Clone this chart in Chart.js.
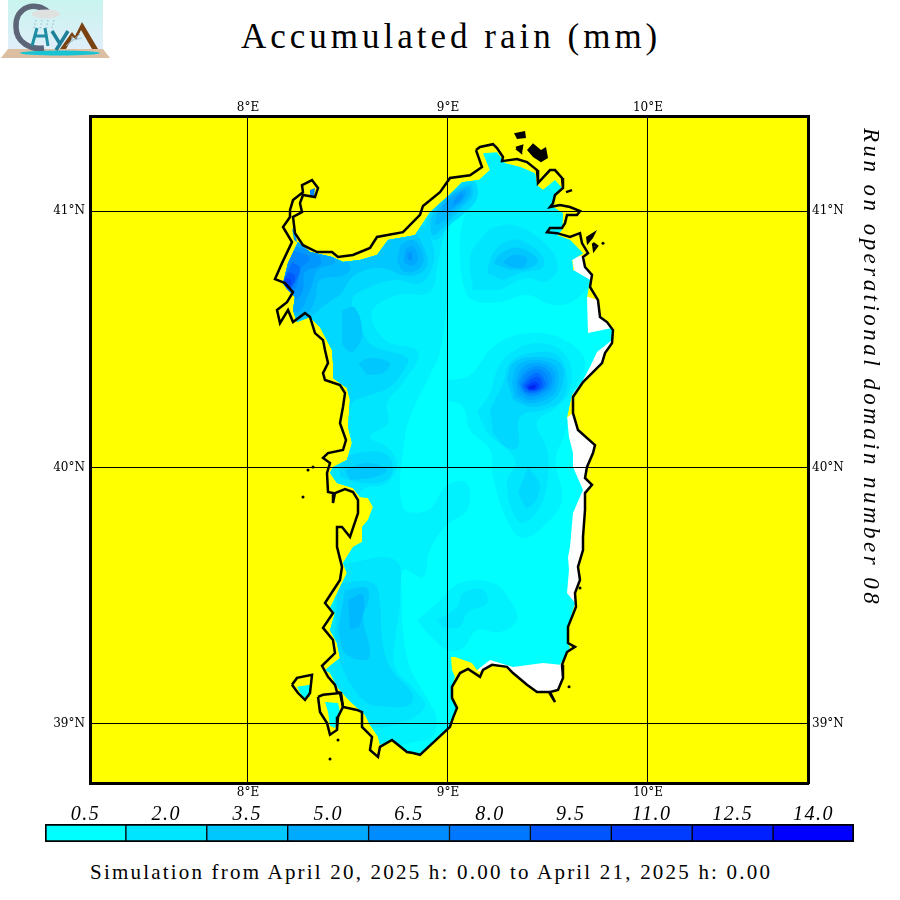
<!DOCTYPE html>
<html lang="en">
<head>
<meta charset="UTF-8">
<title>Accumulated rain (mm)</title>
<script src="https://cdn.jsdelivr.net/npm/chart.js"></script>
<style>
    body { margin: 0; background: #fff; width: 900px; height: 900px; overflow: hidden; position: relative; }
    canvas { position: absolute; left: 0; }
    .txt { position: absolute; white-space: nowrap; font-family: "Liberation Serif", serif; color: #000; }
    #title { left: 241px; top: 17px; font-size: 35px; letter-spacing: 4px; }
    #period { left: 90px; top: 860px; font-size: 21px; letter-spacing: 2.2px; }
    #run { left: 858px; top: 128px; font-size: 23px; font-style: italic; letter-spacing: 3.45px; writing-mode: vertical-rl; }
    #logo { position: absolute; left: 0; top: 0; }
</style>
</head>
<body>
<svg id="logo" width="111" height="59" viewBox="0 0 111 59">
    <defs><linearGradient id="sky" x1="0" y1="0" x2="0" y2="1"><stop offset="0" stop-color="#c8f4ee"/><stop offset="1" stop-color="#e0eefa"/></linearGradient></defs>
    <rect x="8" y="0" width="95" height="50" fill="url(#sky)"/>
    <polygon points="8,49 103,49 110,58 1,58" fill="#dcbfa2"/>
    <ellipse cx="60" cy="53" rx="40" ry="2.500" fill="#18c4d4"/>
    <path d="M48 12 C36 1 15 6 16 27 C16 42 30 50 44 48" fill="none" stroke="#5d6678" stroke-width="5.500"/>
    <path d="M32 46 L37 28 M48 46 L45 28 M35 36 L47 36" stroke="#1f8ea4" stroke-width="3" fill="none"/>
    <path d="M52 31 L60 44 L68 31 M60 44 L56 50" stroke="#1f7f98" stroke-width="3.500" fill="none"/>
    <polygon points="60,49 72,32 75,36 82,22 98,49 92,49 81,30 76,40 73,37 66,49" fill="#7a4210"/>
    <path d="M66 46 L80 34 M72 42 L72 36 M74 40 L82 38" stroke="#9cc4dc" stroke-width="1" fill="none"/>
    <ellipse cx="46" cy="14" rx="14" ry="4.500" fill="#dfe1e1"/>
    <path d="M36 20 L34 28 M42 20 L40 30 M48 20 L46 30 M54 20 L52 28" stroke="#a8c8d8" stroke-width="1.500" stroke-dasharray="1.500 2" fill="none"/>
</svg>
<div class="txt" id="title">Accumulated rain (mm)</div>
<canvas id="map" width="900" height="810" style="top:0"></canvas>
<canvas id="scale" width="900" height="50" style="top:800px"></canvas>
<div class="txt" id="run">Run on operational domain number 08</div>
<div class="txt" id="period">Simulation from April 20, 2025 h: 0.00 to April 21, 2025 h: 0.00</div>

<script>
// map limits (degrees) and graticule
const lonRange = [7.21, 10.8];
const latRange = [38.769, 41.371];
const lonTicks = [8, 9, 10];
const latTicks = [39, 40, 41];

// colour bar
const barLabels = ['0.5', '2.0', '3.5', '5.0', '6.5', '8.0', '9.5', '11.0', '12.5', '14.0'];
const barColors = ['#00FFFF', '#00E5FF', '#00C8FF', '#00AAFF', '#008CFF', '#0078FF', '#0055FF', '#003CFF', '#0020FF', '#0000FF'];
const barValues = [1, 1, 1, 1, 1, 1, 1, 1, 1, 1];

// shades used between the labelled steps
const levelColors = ['#00FFFF', '#00F2FF', '#00E6FF', '#00D8FF', '#00C8FF', '#00B8FF', '#00A8FF', '#0098FF', '#0088FF', '#0070FF', '#0058FF', '#0040FF', '#0028F0'];

// coastline [lon, lat]
const coastMain = [[9.14,41.238],[9.16,41.25],[9.225,41.261],[9.245,41.246],[9.275,41.211],[9.27,41.195],[9.345,41.203],[9.395,41.191],[9.445,41.16],[9.45,41.109],[9.51,41.16],[9.535,41.16],[9.57,41.129],[9.575,41.09],[9.535,41.063],[9.525,41.031],[9.51,41.016],[9.56,41.024],[9.61,41.016],[9.66,41.0],[9.645,40.985],[9.595,40.985],[9.585,40.953],[9.57,40.934],[9.51,40.934],[9.495,40.918],[9.545,40.914],[9.61,40.899],[9.66,40.914],[9.67,40.875],[9.7,40.836],[9.675,40.821],[9.685,40.782],[9.72,40.751],[9.71,40.704],[9.75,40.653],[9.76,40.587],[9.795,40.567],[9.825,40.536],[9.82,40.485],[9.785,40.446],[9.77,40.407],[9.735,40.38],[9.675,40.333],[9.625,40.275],[9.625,40.212],[9.65,40.146],[9.735,40.087],[9.725,40.056],[9.695,40.002],[9.685,39.959],[9.72,39.932],[9.685,39.9],[9.685,39.834],[9.675,39.729],[9.675,39.678],[9.65,39.612],[9.66,39.561],[9.635,39.51],[9.64,39.456],[9.6,39.378],[9.6,39.315],[9.635,39.3],[9.595,39.28],[9.57,39.23],[9.575,39.179],[9.55,39.132],[9.51,39.124],[9.535,39.085],[9.505,39.124],[9.445,39.124],[9.395,39.152],[9.325,39.198],[9.295,39.222],[9.22,39.23],[9.175,39.21],[9.16,39.183],[9.1,39.214],[9.06,39.198],[9.02,39.144],[9.02,39.101],[9.045,39.062],[9.025,39.023],[9.01,38.988],[8.86,38.879],[8.825,38.886],[8.795,38.89],[8.72,38.937],[8.66,38.91],[8.65,38.871],[8.61,38.898],[8.62,38.949],[8.57,38.988],[8.57,39.046],[8.545,39.054],[8.475,39.066],[8.465,39.12],[8.445,39.124],[8.435,39.152],[8.4,39.183],[8.37,39.226],[8.435,39.276],[8.425,39.327],[8.375,39.374],[8.425,39.432],[8.385,39.471],[8.46,39.561],[8.47,39.612],[8.445,39.69],[8.445,39.768],[8.47,39.768],[8.51,39.729],[8.55,39.822],[8.55,39.873],[8.525,39.904],[8.485,39.916],[8.435,39.9],[8.425,39.861],[8.425,39.9],[8.4,39.904],[8.395,39.978],[8.41,40.017],[8.375,40.037],[8.4,40.056],[8.475,40.068],[8.49,40.107],[8.46,40.173],[8.475,40.236],[8.485,40.29],[8.46,40.321],[8.385,40.341],[8.375,40.368],[8.4,40.407],[8.385,40.458],[8.375,40.497],[8.335,40.524],[8.31,40.587],[8.285,40.602],[8.225,40.567],[8.2,40.614],[8.16,40.563],[8.145,40.614],[8.195,40.645],[8.225,40.684],[8.185,40.719],[8.135,40.735],[8.17,40.797],[8.22,40.879],[8.175,40.938],[8.21,40.977],[8.21,41.004],[8.225,41.043],[8.275,41.074],[8.27,41.101],[8.32,41.121],[8.35,41.09],[8.335,41.055],[8.275,41.063],[8.26,41.031],[8.27,40.996],[8.225,40.977],[8.235,40.914],[8.275,40.867],[8.345,40.84],[8.42,40.84],[8.45,40.821],[8.525,40.829],[8.61,40.856],[8.645,40.899],[8.775,40.918],[8.86,40.985],[8.875,41.02],[8.96,41.074],[9.01,41.129],[9.11,41.14],[9.17,41.172],[9.14,41.238]];
const sanPietro = [[8.22,39.152],[8.245,39.179],[8.32,39.191],[8.31,39.12],[8.285,39.093],[8.25,39.12],[8.22,39.152]];
const santAntioco = [[8.35,39.105],[8.375,39.113],[8.46,39.12],[8.475,39.066],[8.45,39.027],[8.445,38.976],[8.41,38.957],[8.395,39.003],[8.36,39.046],[8.35,39.105]];
const maddalenaB = [[9.34,41.246],[9.37,41.254],[9.365,41.23],[9.34,41.246]];
const isletD = [[9.59,41.074],[9.62,41.082]];
const isletF = [[9.725,40.875],[9.745,40.864],[9.73,40.848],[9.725,40.875]];
// the dense little islands read as solid black
const maddalenaA = [[9.33,41.304],[9.385,41.312],[9.39,41.285],[9.345,41.281]];
const maddalenaC = [[9.395,41.238],[9.425,41.265],[9.465,41.238],[9.49,41.25],[9.5,41.207],[9.465,41.191],[9.425,41.211]];
const isletE = [[9.745,40.926],[9.725,40.895],[9.695,40.867],[9.69,40.899]];
const reefs = [[9.775,40.875],[8.3,39.99],[8.325,40.002],[8.275,39.885],[9.605,39.144],[9.66,39.53],[8.45,38.937],[8.41,38.863]];

// land without data (white) along the east and south-east coast
const whiteA = [[9.62,40.817],[9.685,40.829],[9.685,40.782],[9.72,40.751],[9.715,40.719],[9.635,40.751]];
const whiteB = [[9.685,40.669],[9.75,40.653],[9.76,40.587],[9.795,40.567],[9.825,40.536],[9.82,40.485],[9.785,40.446],[9.77,40.407],[9.735,40.38],[9.675,40.333],[9.625,40.275],[9.635,40.419],[9.685,40.516]];
const whiteC = [[9.625,40.212],[9.65,40.146],[9.735,40.087],[9.725,40.056],[9.695,40.002],[9.685,39.959],[9.72,39.932],[9.685,39.9],[9.685,39.834],[9.675,39.729],[9.675,39.678],[9.65,39.612],[9.66,39.561],[9.635,39.51],[9.64,39.456],[9.56,39.483],[9.535,39.873],[9.535,40.158]];
const whiteD = [[9.57,39.23],[9.575,39.179],[9.55,39.132],[9.505,39.124],[9.445,39.124],[9.395,39.152],[9.325,39.198],[9.295,39.222],[9.22,39.23],[9.175,39.21],[9.145,39.202],[9.21,39.288],[9.56,39.288]];

// rain on the small islands
const rainSanPietro = [[8.245,39.144],[8.31,39.152],[8.31,39.105],[8.275,39.101]];
const rainSantAntioco = [[8.385,39.085],[8.45,39.081],[8.46,39.046],[8.435,38.984],[8.41,38.992],[8.4,39.046]];
const rainAsinara = [[8.31,41.082],[8.335,41.09],[8.33,41.055],[8.31,41.059]];
const rainStintino = [[8.22,40.934],[8.235,40.918],[8.245,40.879],[8.23,40.887]];

// outer limit of the rain field on the main island
const rainArea = [[9.175,41.226],[9.245,41.23],[9.285,41.187],[9.36,41.172],[9.435,41.148],[9.445,41.101],[9.475,41.082],[9.535,41.121],[9.57,41.09],[9.535,41.055],[9.525,41.016],[9.575,40.992],[9.57,40.926],[9.545,40.906],[9.61,40.887],[9.675,40.836],[9.62,40.809],[9.625,40.77],[9.71,40.731],[9.695,40.661],[9.7,40.524],[9.82,40.544],[9.82,40.497],[9.745,40.45],[9.71,40.392],[9.675,40.341],[9.62,40.283],[9.595,40.197],[9.605,40.119],[9.625,40.056],[9.625,40.002],[9.675,39.912],[9.625,39.822],[9.61,39.69],[9.6,39.651],[9.605,39.6],[9.595,39.51],[9.635,39.471],[9.6,39.378],[9.6,39.315],[9.61,39.296],[9.56,39.23],[9.475,39.237],[9.325,39.222],[9.21,39.249],[9.145,39.21],[9.12,39.237],[9.035,39.261],[9.015,39.261],[9.02,39.21],[9.035,39.183],[9.02,39.144],[9.02,39.101],[9.045,39.062],[9.025,39.023],[9.01,38.988],[8.86,38.879],[8.825,38.886],[8.795,38.89],[8.72,38.937],[8.66,38.918],[8.65,38.949],[8.61,38.996],[8.585,39.035],[8.52,39.081],[8.495,39.101],[8.445,39.144],[8.41,39.198],[8.385,39.21],[8.46,39.257],[8.445,39.315],[8.41,39.366],[8.435,39.432],[8.41,39.452],[8.495,39.588],[8.475,39.627],[8.525,39.69],[8.57,39.709],[8.57,39.768],[8.6,39.795],[8.625,39.846],[8.6,39.881],[8.56,39.885],[8.525,39.92],[8.445,39.939],[8.41,39.978],[8.425,40.002],[8.495,40.029],[8.52,40.095],[8.5,40.158],[8.51,40.263],[8.495,40.31],[8.425,40.349],[8.425,40.407],[8.42,40.458],[8.36,40.548],[8.31,40.587],[8.245,40.567],[8.225,40.614],[8.235,40.665],[8.2,40.692],[8.175,40.719],[8.2,40.797],[8.25,40.879],[8.31,40.84],[8.42,40.821],[8.475,40.801],[8.56,40.809],[8.645,40.829],[8.7,40.887],[8.835,40.906],[8.91,40.996],[9.005,41.062],[9.07,41.113],[9.155,41.121],[9.21,41.16]];

// rain contours, named by shade index in levelColors
const c1West = [[8.16,40.926],[8.96,41.082],[9.16,41.152],[9.11,41.063],[9.01,40.946],[8.995,40.653],[8.96,40.45],[8.91,40.361],[8.825,40.224],[8.785,40.119],[8.775,39.846],[8.9,39.834],[8.995,39.932],[9.095,39.939],[9.095,39.834],[8.995,39.776],[8.91,39.678],[8.875,39.573],[8.775,39.6],[8.77,39.483],[8.775,39.366],[8.81,39.222],[8.91,39.081],[8.945,39.007],[8.895,38.937],[8.26,38.937],[8.16,40.263]];
const c1NorthEast = [[9.095,41.016],[9.06,40.899],[9.075,40.719],[9.125,40.653],[9.26,40.645],[9.395,40.673],[9.525,40.634],[9.635,40.653],[9.71,40.731],[9.71,40.887],[9.56,41.043],[9.41,41.16],[9.235,41.219],[9.16,41.18]];
const c1Central = [[9.0,40.341],[9.11,40.361],[9.235,40.478],[9.41,40.524],[9.585,40.497],[9.685,40.411],[9.62,40.283],[9.59,40.146],[9.54,40.029],[9.57,39.873],[9.495,39.783],[9.375,39.725],[9.295,39.795],[9.225,39.963],[9.21,40.068],[9.11,40.146],[9.075,40.236],[8.995,40.263]];
const c1South = [[8.845,39.405],[8.945,39.471],[9.06,39.549],[9.225,39.549],[9.31,39.483],[9.345,39.405],[9.26,39.358],[9.145,39.366],[9.075,39.296],[8.995,39.288],[8.895,39.354]];
const c2West = [[8.16,40.926],[8.96,41.051],[9.12,41.101],[9.11,41.043],[9.0,40.946],[8.95,40.801],[8.91,40.684],[8.75,40.673],[8.62,40.606],[8.685,40.497],[8.85,40.45],[8.775,40.329],[8.695,40.251],[8.7,40.173],[8.61,40.119],[8.695,40.08],[8.745,40.017],[8.695,39.939],[8.57,39.912],[8.51,39.834],[8.16,39.951]];
const c2SouthWest = [[8.46,39.62],[8.735,39.639],[8.76,39.483],[8.735,39.327],[8.735,39.222],[8.835,39.132],[8.885,39.066],[8.735,38.996],[8.56,39.007],[8.385,39.249]];
const c2NorthEast = [[9.125,40.692],[9.11,40.821],[9.16,40.887],[9.225,40.934],[9.345,40.942],[9.495,40.867],[9.55,40.782],[9.485,40.723],[9.395,40.739],[9.26,40.692]];
const c2Central = [[9.145,40.216],[9.21,40.29],[9.245,40.38],[9.31,40.446],[9.46,40.485],[9.595,40.431],[9.61,40.302],[9.545,40.236],[9.445,40.177],[9.495,40.068],[9.5,39.963],[9.46,39.846],[9.375,39.783],[9.325,39.822],[9.295,39.939],[9.335,40.029],[9.195,40.134]];
const c2South = [[8.945,39.405],[9.045,39.456],[9.075,39.51],[9.175,39.522],[9.195,39.471],[9.095,39.432],[9.06,39.378],[8.975,39.374]];
const c3West = [[8.21,40.906],[8.86,40.946],[8.925,40.867],[8.92,40.778],[8.86,40.719],[8.735,40.731],[8.6,40.7],[8.52,40.653],[8.57,40.536],[8.62,40.478],[8.795,40.427],[8.785,40.388],[8.71,40.314],[8.61,40.283],[8.525,40.255],[8.485,40.185],[8.26,40.185]];
const c3Lobe40 = [[8.46,40.029],[8.545,40.056],[8.675,40.056],[8.725,40.01],[8.695,39.951],[8.575,39.939],[8.46,39.963]];
const c3SouthWest = [[8.45,39.549],[8.625,39.549],[8.66,39.471],[8.67,39.339],[8.71,39.222],[8.82,39.12],[8.81,39.074],[8.71,39.066],[8.575,39.093],[8.45,39.261],[8.435,39.366]];
const c3NorthEast = [[9.195,40.758],[9.225,40.836],[9.31,40.887],[9.395,40.875],[9.475,40.821],[9.47,40.778],[9.375,40.762],[9.275,40.731]];
const c3North = [[8.96,41.063],[9.12,41.121],[9.15,41.063],[9.1,41.004],[9.01,40.946],[8.935,40.887],[8.885,40.946]];
const c3Central = [[9.21,40.224],[9.275,40.329],[9.31,40.407],[9.41,40.446],[9.545,40.439],[9.595,40.353],[9.57,40.263],[9.475,40.224],[9.36,40.197],[9.35,40.08],[9.295,40.076],[9.225,40.134]];
const c3Ogliastra = [[9.4,40.002],[9.46,39.924],[9.4,39.842],[9.35,39.9]];
const c4West = [[8.21,40.906],[8.81,40.918],[8.885,40.848],[8.89,40.778],[8.8,40.747],[8.66,40.778],[8.535,40.751],[8.46,40.673],[8.42,40.653],[8.26,40.575],[8.185,40.653]];
const c4LobeA = [[8.47,40.614],[8.535,40.622],[8.57,40.517],[8.52,40.45],[8.47,40.478]];
const c4LobeB = [[8.55,40.407],[8.61,40.427],[8.71,40.407],[8.675,40.368],[8.595,40.361]];
const c4Lobe40 = [[8.485,39.99],[8.595,40.017],[8.695,39.99],[8.635,39.963],[8.51,39.951]];
const c4SouthWest = [[8.485,39.522],[8.595,39.53],[8.6,39.471],[8.575,39.417],[8.61,39.288],[8.595,39.249],[8.485,39.276],[8.45,39.366]];
const c4NorthEast = [[9.225,40.797],[9.275,40.84],[9.36,40.856],[9.45,40.809],[9.41,40.778],[9.31,40.77]];
const c4North = [[8.975,41.055],[9.11,41.105],[9.125,41.063],[9.07,41.012],[9.0,40.957],[8.925,40.906],[8.91,40.965]];
const c4Central = [[9.295,40.341],[9.325,40.407],[9.445,40.431],[9.56,40.407],[9.575,40.329],[9.525,40.263],[9.425,40.236],[9.325,40.263]];
const c5SouthWest = [[8.5,39.483],[8.575,39.503],[8.56,39.386],[8.51,39.366]];
const c5NorthEast = [[9.275,40.801],[9.325,40.829],[9.395,40.817],[9.375,40.782],[9.31,40.782]];
const c5NorthWest = [[8.22,40.887],[8.425,40.829],[8.51,40.79],[8.485,40.751],[8.36,40.731],[8.335,40.653],[8.285,40.595],[8.185,40.614],[8.135,40.731]];
const c5North = [[8.995,41.055],[9.1,41.094],[9.11,41.063],[9.05,41.012],[8.995,40.973],[8.94,40.946],[8.945,40.996]];
const c5Blob = [[8.76,40.867],[8.825,40.887],[8.875,40.829],[8.86,40.778],[8.785,40.762],[8.745,40.801]];
const c5Central = [[9.32,40.333],[9.35,40.4],[9.45,40.419],[9.54,40.392],[9.55,40.322],[9.51,40.275],[9.41,40.251],[9.335,40.275]];
const c6NorthWest = [[8.22,40.887],[8.36,40.848],[8.435,40.801],[8.35,40.77],[8.31,40.692],[8.25,40.606],[8.185,40.634],[8.135,40.731]];
const c6North = [[9.01,41.051],[9.085,41.082],[9.085,41.055],[9.035,41.016],[8.985,40.992],[8.97,41.016]];
const c6Blob = [[8.785,40.848],[8.82,40.864],[8.85,40.817],[8.82,40.786],[8.78,40.801]];
const c6Central = [[9.34,40.333],[9.37,40.388],[9.45,40.407],[9.525,40.38],[9.53,40.322],[9.49,40.283],[9.41,40.263],[9.35,40.286]];
const c7NorthWest = [[8.22,40.867],[8.35,40.829],[8.36,40.79],[8.285,40.762],[8.275,40.692],[8.235,40.653],[8.16,40.673],[8.135,40.751]];
const c7North = [[9.04,41.055],[9.075,41.07],[9.065,41.043],[9.02,41.02]];
const c7Blob = [[8.795,40.832],[8.815,40.84],[8.82,40.809],[8.8,40.809]];
const c7Central = [[9.35,40.329],[9.385,40.376],[9.45,40.396],[9.51,40.368],[9.515,40.322],[9.475,40.29],[9.41,40.275],[9.365,40.294]];
const c8NorthWest = [[8.22,40.848],[8.31,40.817],[8.26,40.77],[8.245,40.711],[8.22,40.68],[8.16,40.692],[8.16,40.77]];
const c8Central = [[9.36,40.325],[9.395,40.368],[9.45,40.384],[9.495,40.357],[9.5,40.322],[9.465,40.294],[9.41,40.283],[9.375,40.298]];
const c9NorthWest = [[8.22,40.801],[8.26,40.778],[8.235,40.719],[8.2,40.684],[8.17,40.711]];
const c9Central = [[9.37,40.322],[9.41,40.357],[9.45,40.368],[9.48,40.345],[9.485,40.318],[9.455,40.298],[9.41,40.29],[9.38,40.298]];
const c10NorthWest = [[8.2,40.762],[8.235,40.747],[8.22,40.711],[8.185,40.692],[8.175,40.723]];
const c10Central = [[9.38,40.318],[9.415,40.345],[9.45,40.353],[9.47,40.333],[9.465,40.31],[9.435,40.298],[9.405,40.298]];
const c11NorthWest = [[8.185,40.739],[8.215,40.731],[8.205,40.7],[8.18,40.704]];
const c11Central = [[9.39,40.314],[9.42,40.333],[9.445,40.333],[9.455,40.318],[9.435,40.302],[9.405,40.302]];
const c12Central = [[9.4,40.314],[9.425,40.322],[9.44,40.318],[9.43,40.306],[9.405,40.306]];

function xy(points) {
    return points.map(p => ({ x: p[0], y: p[1] }));
}

function area(points, color, tension) {
    return { data: xy(points), showLine: true, fill: 'shape', backgroundColor: color, borderWidth: 0, pointRadius: 0, tension: tension || 0 };
}

function outline(points, key) {
    return { key: key, data: xy(points), showLine: true, fill: false, borderColor: '#000', borderWidth: 2.5, pointRadius: 0 };
}

const contours = [
    [c1West, 1], [c1NorthEast, 1], [c1Central, 1], [c1South, 1],
    [c2West, 2], [c2SouthWest, 2], [c2NorthEast, 2], [c2Central, 2], [c2South, 2],
    [c3West, 3], [c3Lobe40, 3], [c3SouthWest, 3], [c3NorthEast, 3], [c3North, 3], [c3Central, 3], [c3Ogliastra, 3],
    [c4West, 4], [c4LobeA, 4], [c4LobeB, 4], [c4Lobe40, 4], [c4SouthWest, 4], [c4NorthEast, 4], [c4North, 4], [c4Central, 4],
    [c5SouthWest, 5], [c5NorthEast, 5], [c5NorthWest, 5], [c5North, 5], [c5Blob, 5], [c5Central, 5],
    [c6NorthWest, 6], [c6North, 6], [c6Blob, 6], [c6Central, 6],
    [c7NorthWest, 7], [c7North, 7], [c7Blob, 7], [c7Central, 7],
    [c8NorthWest, 8], [c8Central, 8],
    [c9NorthWest, 9], [c9Central, 9],
    [c10NorthWest, 10], [c10Central, 10],
    [c11NorthWest, 11], [c11Central, 11],
    [c12Central, 12]
];

// listed from the bottom layer to the top one
const layers = [
    area(whiteA, '#fff'), area(whiteB, '#fff'), area(whiteC, '#fff'), area(whiteD, '#fff'),
    area(rainSanPietro, levelColors[0]), area(rainSantAntioco, levelColors[0]),
    area(rainAsinara, levelColors[8]), area(rainStintino, levelColors[7]),
    Object.assign(area(rainArea, levelColors[0]), { key: 'rainArea' })
];
contours.forEach(c => layers.push(area(c[0], levelColors[c[1]], 0.4)));
layers.push(outline(coastMain, 'coast'));
[sanPietro, santAntioco, maddalenaB, isletD, isletF].forEach(i => layers.push(outline(i)));
[maddalenaA, maddalenaC, isletE].forEach(i => layers.push(area(i, '#000')));
layers.push({ data: xy(reefs), pointRadius: 1.5, pointBackgroundColor: '#000', pointBorderWidth: 0 });
layers.forEach((d, i) => { d.order = layers.length - i; });

// yellow sea behind everything
const seaPlugin = {
    id: 'sea',
    beforeDraw(chart) {
        const a = chart.chartArea;
        chart.ctx.fillStyle = '#FFFF00';
        chart.ctx.fillRect(a.left, a.top, a.width, a.height);
    }
};

// contours only show inside the rain field: clip from after rainArea up to the coast
const clipPlugin = {
    id: 'rainClip',
    afterDatasetDraw(chart, args) {
        if (chart.data.datasets[args.index].key !== 'rainArea') return;
        const ctx = chart.ctx;
        ctx.save();
        ctx.beginPath();
        rainArea.forEach((p, i) => {
            const px = chart.scales.x.getPixelForValue(p[0]);
            const py = chart.scales.y.getPixelForValue(p[1]);
            if (i === 0) ctx.moveTo(px, py); else ctx.lineTo(px, py);
        });
        ctx.closePath();
        ctx.clip();
    },
    beforeDatasetDraw(chart, args) {
        if (chart.data.datasets[args.index].key === 'coast') chart.ctx.restore();
    }
};

// the bar labels are spaced out a little in the original
const spacingPlugin = {
    id: 'spacing',
    beforeDraw(chart) { chart.ctx.letterSpacing = '1.5px'; }
};

const tickFont = { family: 'DejaVu Serif', size: 12 };

function axis(position, range, ticks, suffix, size, showGrid, padding) {
    const horizontal = position === 'top' || position === 'bottom';
    return {
        type: 'linear',
        axis: horizontal ? 'x' : 'y',
        position: position,
        min: range[0],
        max: range[1],
        afterBuildTicks: s => { s.ticks = ticks.map(v => ({ value: v })); },
        afterFit: s => { if (horizontal) s.height = size; else s.width = size; },
        grid: { display: showGrid, color: '#000', lineWidth: 1, z: 1, drawTicks: false },
        border: { display: true, color: '#000', width: 3, z: 2 },
        ticks: { color: '#000', font: tickFont, padding: padding, autoSkip: false, maxRotation: 0, callback: v => v + suffix }
    };
}

new Chart(document.getElementById('map'), {
    type: 'scatter',
    data: { datasets: layers },
    options: {
        responsive: false,
        animation: false,
        devicePixelRatio: 1,
        layout: { padding: 0 },
        scales: {
            x: axis('bottom', lonRange, lonTicks, '°E', 27, true, 3),
            x2: axis('top', lonRange, lonTicks, '°E', 116, false, 1),
            y: axis('left', latRange, latTicks, '°N', 90, true, 5),
            y2: axis('right', latRange, latTicks, '°N', 92, false, 4)
        },
        plugins: { legend: { display: false }, tooltip: { enabled: false } }
    },
    plugins: [seaPlugin, clipPlugin]
});

new Chart(document.getElementById('scale'), {
    type: 'bar',
    data: {
        labels: barLabels,
        datasets: [{
            data: barValues,
            backgroundColor: barColors,
            borderColor: '#000',
            borderSkipped: false,
            borderWidth: c => ({ top: 2, bottom: 2, left: c.dataIndex === 0 ? 2 : 1, right: c.dataIndex === 9 ? 2 : 1 }),
            barPercentage: 1,
            categoryPercentage: 1
        }]
    },
    options: {
        responsive: false,
        animation: false,
        devicePixelRatio: 1,
        layout: { padding: { left: 45, right: 46, top: 0, bottom: 8 } },
        scales: {
            x: {
                position: 'top',
                afterFit: s => { s.height = 24; },
                grid: { display: false, drawTicks: false },
                border: { display: false },
                ticks: { color: '#000', padding: -3, maxRotation: 0, font: { family: 'Liberation Serif', size: 20, style: 'italic' } }
            },
            y: { display: false, min: 0, max: 1 }
        },
        plugins: { legend: { display: false }, tooltip: { enabled: false } }
    },
    plugins: [spacingPlugin]
});
</script>
</body>
</html>
